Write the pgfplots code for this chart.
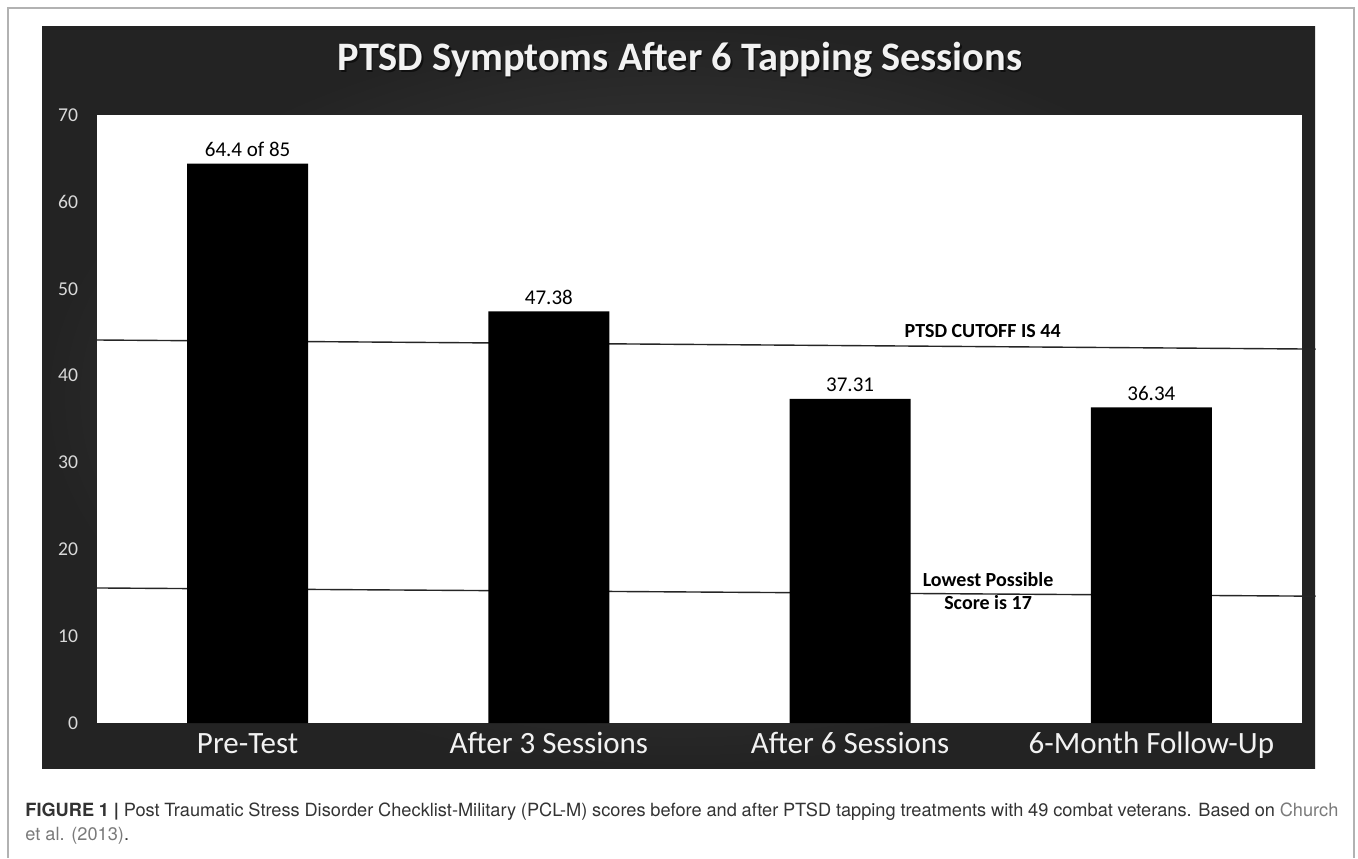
\documentclass[border=0pt]{standalone}
\usepackage{pgfplots}
\pgfplotsset{compat=1.18}
\usepackage{fontspec}
\setmainfont{Carlito}
\newfontfamily\capfont{TeX Gyre Heros}
\definecolor{panelin}{HTML}{4D4D4D}
\definecolor{panelout}{HTML}{232323}
\definecolor{ticktxt}{HTML}{D9D9D9}
\definecolor{capgray}{HTML}{7A7A7A}
\definecolor{captxt}{HTML}{333333}

\begin{document}
\begin{tikzpicture}[x=0.5pt,y=0.5pt]
\useasboundingbox (0,0) rectangle (1358,858);
% outer frame of the figure
\draw[gray!60, line width=0.6pt] (8,0) -- (8,850) -- (1354,850) -- (1354,0);
% dark chart panel
\shade[inner color=panelin, outer color=panelout] (42,90) rectangle (1315,831);
% title with a soft shadow
\node[text=black, opacity=0.55, anchor=base, font=\fontsize{20.2}{24}\bfseries\selectfont] at (681.5,785.5) {PTSD Symptoms After 6 Tapping Sessions};
\node[text=white!95!black, anchor=base, font=\fontsize{20.2}{24}\bfseries\selectfont] at (680,787) {PTSD Symptoms After 6 Tapping Sessions};

\begin{axis}[
  at={(48.5pt,67.5pt)}, anchor=south west,
  scale only axis, width=602.5pt, height=304pt,
  xmin=-0.5, xmax=3.5, ymin=0, ymax=70,
  axis background/.style={fill=white},
  axis line style={draw=none},
  major tick length=0pt,
  xtick={0,1,2,3},
  xticklabels={Pre-Test, After 3 Sessions, After 6 Sessions, 6-Month Follow-Up},
  xticklabel style={anchor=base, yshift=-15pt, text=white!95!black, font=\fontsize{15.5}{18}\selectfont},
  ytick={0,10,...,70},
  yticklabel style={text=ticktxt, font=\fontsize{9.8}{11}\selectfont, xshift=-6pt},
  /pgf/number format/assume math mode=true,
  clip=false,
]
% reference lines drawn as shapes in the original
\addplot[black!85, line width=0.7pt] coordinates {(-0.515,44.1) (3.545,43.05)};
\addplot[black!85, line width=0.7pt] coordinates {(-0.515,15.55) (3.545,14.6)};
\addplot[ybar, bar width=60.5pt, fill=black, draw=none,
  point meta=explicit symbolic, nodes near coords,
  nodes near coords style={text=black, font=\fontsize{10.5}{13}\selectfont}]
  coordinates {(0,64.4)[64.4 of 85] (1,47.38)[47.38] (2,37.31)[37.31] (3,36.34)[36.34]};
\node[font=\fontsize{10}{12}\bfseries\selectfont] at (axis cs:2.44,45.1) {PTSD CUTOFF IS 44};
\node[font=\fontsize{10}{11.5}\bfseries\selectfont, align=center] at (axis cs:2.458,15.2) {Lowest Possible\\Score is 17};
\end{axis}

% caption
\node[anchor=base west, inner sep=0pt, text width=656.5pt, align=justify, text=captxt,
  font=\capfont\fontsize{9.1}{12}\selectfont] at (25,42)
  {\textbf{FIGURE 1 |} Post Traumatic Stress Disorder Checklist-Military (PCL-M) scores before and after PTSD tapping treatments with 49 combat veterans. Based on \textcolor{capgray}{Church}\linebreak \textcolor{capgray}{et al. (2013)}.};
\end{tikzpicture}
\end{document}
